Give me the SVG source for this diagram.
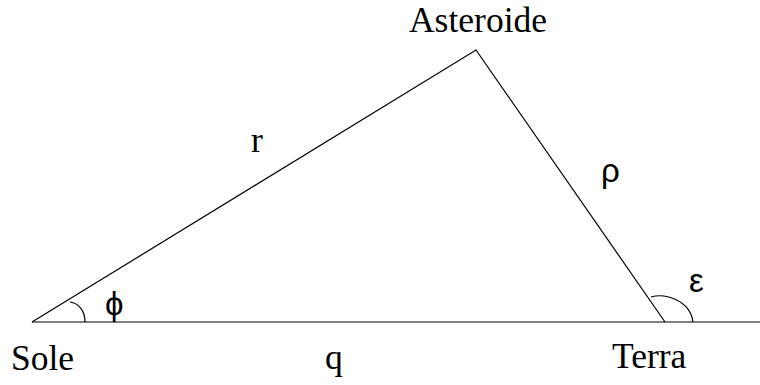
<svg xmlns="http://www.w3.org/2000/svg" width="760" height="385" viewBox="0 0 760 385">
<style>
.ln{fill:none;stroke:#000;stroke-width:1.2}
.t{font-family:"Liberation Serif","Times New Roman",serif;font-size:35.5px;fill:#000}
.g{font-family:"Liberation Sans","DejaVu Sans",sans-serif;font-size:33px;fill:#000}
</style>
<rect width="760" height="385" fill="#fff"/>
<g id="connectors">
<path class="ln" d="M32,322 L476,50 L665,322"/>
<path class="ln" d="M32,322 L760,322"/>
<path class="ln" d="M70,302 C78,303 85,310 85,322"/>
<path class="ln" d="M651,297 C665,293 690,300 693,322"/>
</g>
<g id="asteroide"><text class="t" x="478" y="32" text-anchor="middle">Asteroide</text></g>
<g id="sole"><text class="t" x="11" y="370">Sole</text></g>
<g id="terra"><text class="t" x="612" y="368">Terra</text></g>
<g id="label-r"><text class="t" x="251" y="152">r</text></g>
<g id="label-q"><text class="t" x="325" y="369">q</text></g>
<g id="label-rho"><text class="g" x="601" y="182">ρ</text></g>
<g id="label-phi"><text class="g" x="105" y="315">ϕ</text></g>
<g id="label-eps"><text class="g" x="689" y="292">ε</text></g>
</svg>
